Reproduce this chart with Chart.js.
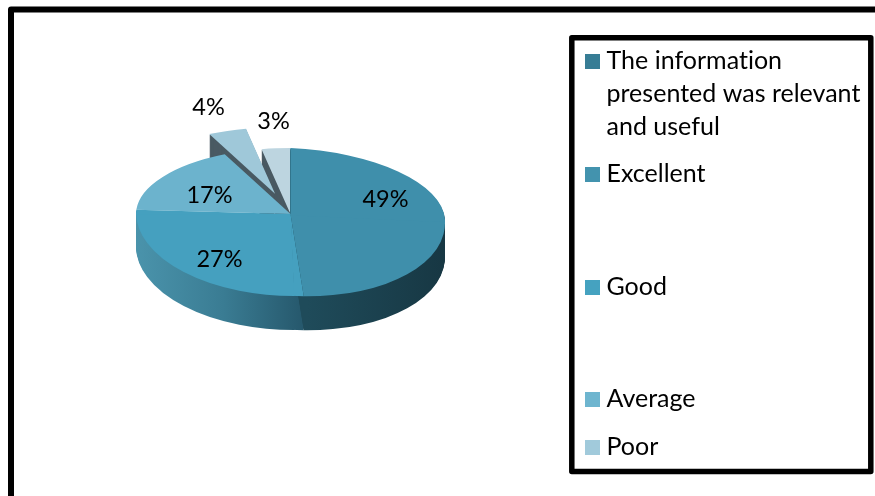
<!DOCTYPE html>
<html>
<head>
<meta charset="utf-8">
<style>html,body{margin:0;padding:0;background:#fff;overflow:hidden}canvas{display:block}</style>
<script src="https://cdn.jsdelivr.net/npm/chart.js@4"></script>
</head>
<body>
<canvas id="c" width="875" height="496"></canvas>
<script>
const sliceNames = ["Excellent", "Good", "Average", "Poor", ""];
const values = [49, 27, 17, 4, 3];
const percentLabels = ["49%", "27%", "17%", "4%", "3%"];
const sliceColors = ["#3f8fab", "#45a0bf", "#6cb3cd", "#9fc8d9", "#bdd5e0"];
const legendColors = ["#377d95", "#4393ae", "#45a2c0", "#6eb5cf", "#a1cadb"];
const legendLines = [["The information", "presented was relevant", "and useful"], ["Excellent"], ["Good"], ["Average"], ["Poor"]];

const FONT = 'Lato, "Noto Sans", sans-serif';
const view = {apexY: 214, kTop: 66 / 154.5, kBottom: 82 / 154.5, shearRight: 0.045, skewBottom: 0.023, depth: 34, explode: 50, explodedIndex: 3, cutFace: "#4a5a63"};
const legendBaselines = [[69, 102, 135], [182], [295], [407], [455]];
const labelOffsets = [[95, -15], [-71, 45], [-81, -19], [-82, -107], [-17, -93]];

function paint(ctx, arc, fill, ox, oy) {
  const saved = arc.options;
  arc.options = {backgroundColor: fill, borderColor: fill, borderWidth: 0, offset: 0, spacing: 0, circular: true,
    borderAlign: "center", borderRadius: 0, borderJoinStyle: "round", borderDash: [], borderDashOffset: 0};
  const quads = [
    {k: view.kBottom, s: 0, c: view.skewBottom, x0: -1000, x1: 0.5, y0: 0, y1: 1000},
    {k: view.kBottom, s: view.shearRight, c: view.skewBottom, x0: 0, x1: 1000, y0: 0, y1: 1000},
    {k: view.kTop, s: 0, c: 0, x0: -1000, x1: 0.5, y0: -1000, y1: 1},
    {k: view.kTop, s: view.shearRight, c: 0, x0: 0, x1: 1000, y0: -1000, y1: 3}
  ];
  for (const q of quads) {
    ctx.save();
    ctx.translate(arc.x + ox, view.apexY + oy);
    ctx.transform(1, q.s, q.c, q.k, 0, 0);
    ctx.beginPath();
    ctx.rect(q.x0, q.y0, q.x1 - q.x0, q.y1 - q.y0);
    ctx.clip();
    ctx.translate(-arc.x, -arc.y);
    arc.draw(ctx);
    ctx.restore();
  }
  arc.options = saved;
}

function hGrad(ctx, x0, c0, x1, c1, mid) {
  const g = ctx.createLinearGradient(x0, 0, x1, 0);
  g.addColorStop(0, c0);
  if (mid) g.addColorStop(0.5, mid);
  g.addColorStop(1, c1);
  return g;
}

const pie3d = {
  id: "pie3d",
  beforeDraw(chart) {
    const ctx = chart.ctx;
    ctx.save();
    ctx.fillStyle = "#fff";
    ctx.fillRect(0, 0, 875, 496);
    ctx.strokeStyle = "#000";
    ctx.lineJoin = "round";
    ctx.lineWidth = 6;
    ctx.beginPath();
    ctx.moveTo(11, 520);
    ctx.lineTo(11, 9.5);
    ctx.lineTo(890, 9.5);
    ctx.stroke();
    ctx.fillStyle = "#fff";
    ctx.fillRect(572, 38, 299, 433);
    ctx.lineWidth = 5.5;
    ctx.strokeRect(571.8, 37.8, 299, 433.7);
    ctx.restore();
  },
  beforeDatasetsDraw(chart) {
    const ctx = chart.ctx;
    const arcs = chart.getDatasetMeta(0).data;
    const ex = arcs[view.explodedIndex];
    const mid = (ex.startAngle + ex.endAngle) / 2;
    const exX = Math.cos(mid) * view.explode;
    const exY = Math.sin(mid) * view.explode * view.kTop;
    const wall27 = hGrad(ctx, 136, "#4a93ab", 304, "#25566a", "#3a7c93");
    const wall49 = hGrad(ctx, 304, "#1f4b5a", 445, "#173743");
    const sweep = (arc, fill, ox, oy) => {
      for (let d = view.depth; d >= 1; d--) paint(ctx, arc, fill, ox, oy + d);
    };
    sweep(arcs[4], view.cutFace, 0, 0);
    paint(ctx, arcs[4], sliceColors[4], 0, 0);
    sweep(ex, view.cutFace, exX, exY);
    paint(ctx, ex, sliceColors[3], exX, exY);
    sweep(arcs[1], wall27, 0, 0);
    sweep(arcs[0], wall49, 0, 0);
    paint(ctx, arcs[2], sliceColors[2], 0, 0);
    paint(ctx, arcs[1], sliceColors[1], 0, 0);
    paint(ctx, arcs[0], sliceColors[0], 0, 0);
    return false;
  },
  afterDraw(chart) {
    const ctx = chart.ctx;
    const arc = chart.getDatasetMeta(0).data[0];
    ctx.save();
    ctx.letterSpacing = "0.01px";
    ctx.fillStyle = "#000";
    ctx.textAlign = "center";
    ctx.textBaseline = "middle";
    ctx.font = "23.5px " + FONT;
    percentLabels.forEach((t, i) => ctx.fillText(t, arc.x + labelOffsets[i][0], view.apexY + labelOffsets[i][1]));
    ctx.textAlign = "left";
    ctx.textBaseline = "alphabetic";
    ctx.font = "25px " + FONT;
    legendLines.forEach((lines, i) => {
      ctx.fillStyle = legendColors[i];
      ctx.fillRect(585, legendBaselines[i][0] - 15, 15, 15);
      ctx.fillStyle = "#000";
      lines.forEach((l, j) => ctx.fillText(l, 606.5, legendBaselines[i][j]));
    });
    ctx.restore();
  }
};

new Chart(document.getElementById("c"), {
  type: "pie",
  data: {labels: sliceNames, datasets: [{data: values, backgroundColor: sliceColors, borderWidth: 0}]},
  options: {
    responsive: false,
    animation: false,
    layout: {padding: {left: 0, right: 294, top: 50, bottom: 137}},
    plugins: {legend: {display: false}, tooltip: {enabled: false}}
  },
  plugins: [pie3d]
});
</script>
</body>
</html>
